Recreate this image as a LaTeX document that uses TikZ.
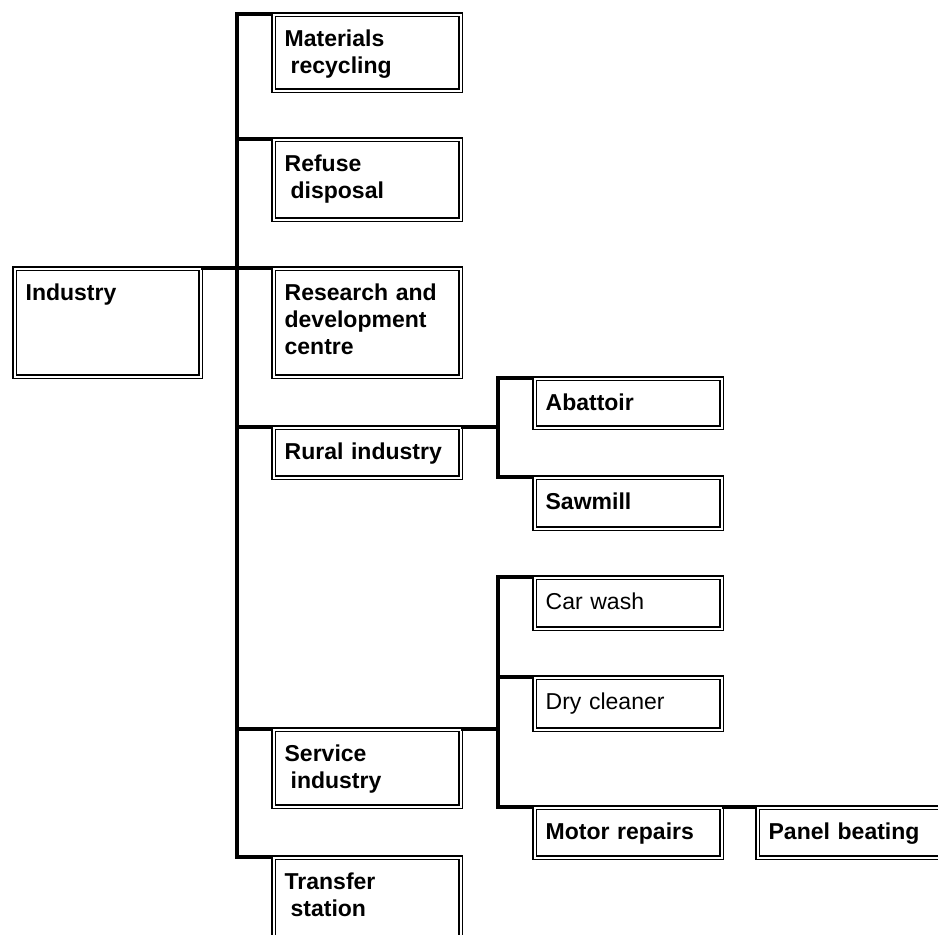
\documentclass[tikz,border=0pt]{standalone}
\usepackage{fontspec}
\setmainfont{Liberation Sans}
\begin{document}
\begin{tikzpicture}[x=1pt,y=-1pt,
  box/.style={draw,line width=1.3pt,double=white,double distance=2.2pt,anchor=north west,
    inner xsep=11pt,inner ysep=0pt,align=left,text width=165pt,
    text height=31.5pt,text depth=#1,font=\fontsize{23}{27}\selectfont\bfseries},
  box/.default=18.5pt,
  reg/.style={font=\fontsize{23}{27}\selectfont},
  link/.style={line width=3.2pt}]
\clip (0,0) rectangle (938,935);
\node[box=76.5pt,text width=164pt] (ind) at (14,268) {Industry};
\node[box=44.5pt] (mat) at (273,14) {Materials\\\hspace*{6pt}recycling};
\node[box=48.5pt] (ref) at (273,139) {Refuse\\\hspace*{6pt}disposal};
\node[box=76.5pt] (rd) at (273,268) {Research and\\development\\centre};
\node[box] (rur) at (273,427) {Rural industry};
\node[box=45.5pt] (serv) at (273,729) {Service\\\hspace*{6pt}industry};
\node[box=63.5pt] (trans) at (273,857) {Transfer\\\hspace*{6pt}station};
\node[box=17.5pt] (aba) at (534,378) {Abattoir};
\node[box=19.5pt] (saw) at (534,477) {Sawmill};
\node[box=19.5pt,reg] (car) at (534,577) {Car wash};
\node[box=20.5pt,reg] (dry) at (534,677) {Dry cleaner};
\node[box] (mot) at (534,807) {Motor repairs};
\node[box,text width=181pt] (pan) at (757,807) {Panel beating};
\coordinate (trunk) at (237,0);
\coordinate (rjoin) at (498,0);
\coordinate (sjoin) at (498,0);
\draw[link] (mat.north west) -| (trunk |- trans.north west) -- (trans.north west);
\foreach \b in {ref,rur,serv}
  \draw[link] (\b.north west) -- (trunk |- \b.north west);
\draw[link] (ind.north east) -- (rd.north west);
\draw[link] (rur.north east) -- (rjoin |- rur.north east);
\draw[link] (aba.north west) -| (rjoin |- saw.north west) -- (saw.north west);
\draw[link] (serv.north east) -- (sjoin |- serv.north east);
\draw[link] (car.north west) -| (sjoin |- mot.north west) -- (mot.north west);
\draw[link] (dry.north west) -- (sjoin |- dry.north west);
\draw[link] (mot.north east) -- (pan.north west);
\end{tikzpicture}
\end{document}
